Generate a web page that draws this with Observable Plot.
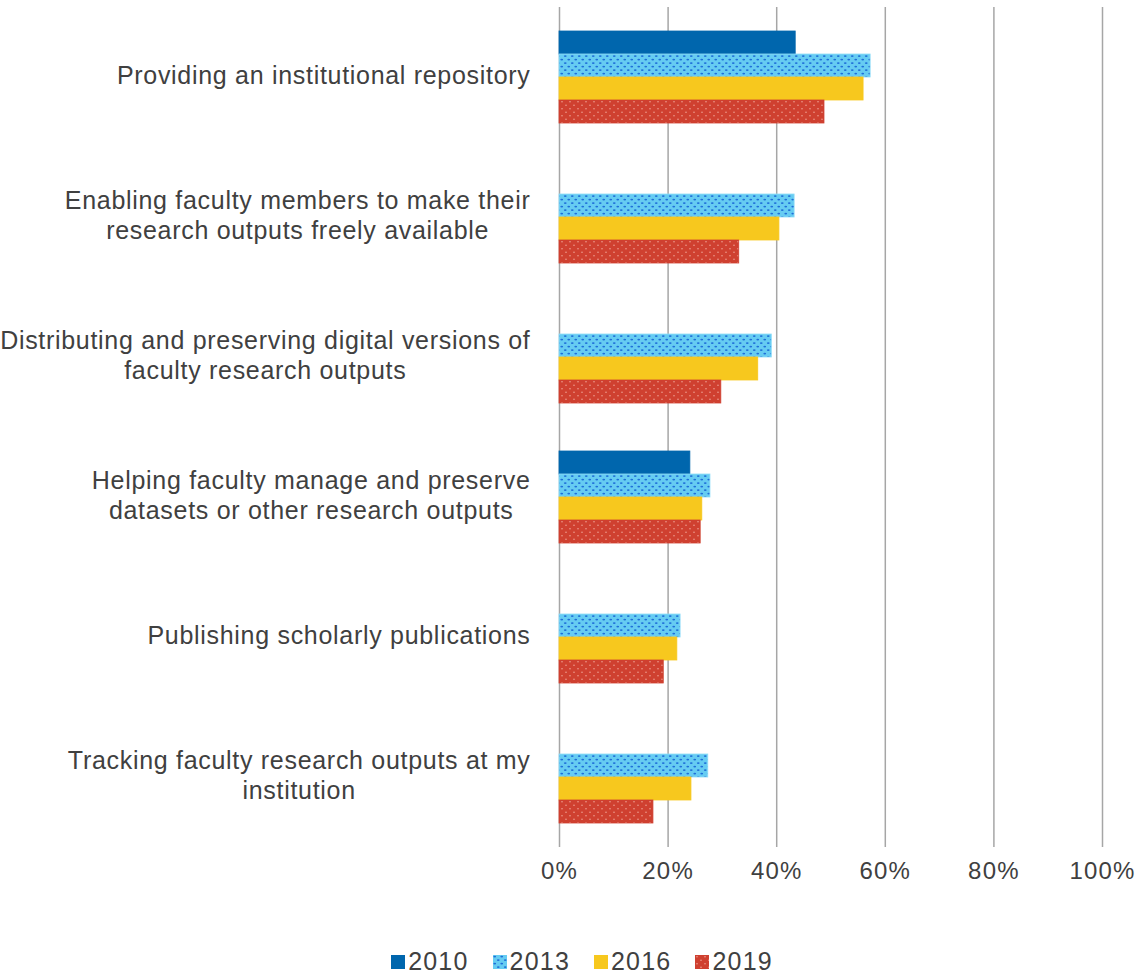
<!DOCTYPE html>
<html>
<head>
<meta charset="utf-8">
<script src="https://cdn.jsdelivr.net/npm/d3@7"></script>
<script src="https://cdn.jsdelivr.net/npm/@observablehq/plot@0.6"></script>
<style>
  html, body { margin: 0; padding: 0; background: #fff; }
  body { width: 1138px; font-family: "Liberation Sans", Arial, sans-serif; }
  #legend { display: flex; justify-content: center; gap: 24px; margin-top: 47px; font-size: 25px; letter-spacing: 1.2px; color: #404040; margin-left: 26px;}
  #legend .item { display: flex; align-items: center; gap: 3px; }
  #legend svg { display: block; }
</style>
</head>
<body>
<svg width="0" height="0" style="position:absolute">
  <defs>
    <pattern id="p2013" width="7" height="7" patternUnits="userSpaceOnUse">
      <rect width="7" height="7" fill="#66ccf2"/>
      <ellipse cx="1.75" cy="1.6" rx="1.4" ry="0.85" fill="#1e6fd9"/>
      <ellipse cx="5.25" cy="5.1" rx="1.4" ry="0.85" fill="#1e6fd9"/>
    </pattern>
    <pattern id="p2019" width="8" height="7" patternUnits="userSpaceOnUse">
      <rect width="8" height="7" fill="#cf4030"/>
      <circle cx="2" cy="1.7" r="0.8" fill="#ee9d8f"/>
      <circle cx="6" cy="5.2" r="0.8" fill="#ee9d8f"/>
    </pattern>
  </defs>
</svg>
<div id="chart"></div>
<div id="legend"></div>
<script>
const categories = [
  "Providing an institutional repository",
  "Enabling faculty members to make their research outputs freely available",
  "Distributing and preserving digital versions of faculty research outputs",
  "Helping faculty manage and preserve datasets or other research outputs",
  "Publishing scholarly publications",
  "Tracking faculty research outputs at my institution"
];
const labels = [
  "Providing an institutional repository",
  "Enabling faculty members to make their\nresearch outputs freely available",
  "Distributing and preserving digital versions of\nfaculty research outputs",
  "Helping faculty manage and preserve\ndatasets or other research outputs",
  "Publishing scholarly publications",
  "Tracking faculty research outputs at my\ninstitution"
];
const years = ["2010", "2013", "2016", "2019"];
const values2010 = [0.435, null, null, 0.241, null, null];
const values2013 = [0.573, 0.433, 0.391, 0.278, 0.223, 0.274];
const values2016 = [0.560, 0.405, 0.366, 0.263, 0.217, 0.243];
const values2019 = [0.488, 0.331, 0.298, 0.260, 0.192, 0.173];
const xTicks = [0, 0.2, 0.4, 0.6, 0.8, 1.0];
const fills = ["#0066ad", "url(#p2013)", "#f7c81e", "url(#p2019)"];
const strokes = ["#0066ad", "#8fdcf8", "#f7c81e", "#cf4030"];

const series = [values2010, values2013, values2016, values2019];
const rows = [];
years.forEach((yr, j) => {
  categories.forEach((c, i) => {
    const v = series[j][i];
    if (v != null) rows.push({category: c, year: yr, value: v});
  });
});
const labelOf = new Map(categories.map((c, i) => [c, labels[i]]));

const plot = Plot.plot({
  width: 1138,
  height: 900,
  marginLeft: 559,
  marginRight: 36,
  marginTop: 5,
  marginBottom: 52,
  style: {fontFamily: '"Liberation Sans", Arial, sans-serif', color: "#404040", background: "#fff"},
  x: {domain: [0, 1], label: null},
  y: {domain: years, paddingInner: 0, paddingOuter: 1.0, axis: null, label: null},
  fy: {domain: categories, padding: 0, label: null},
  color: {domain: years, range: fills},
  marks: [
    Plot.gridX({ticks: xTicks, stroke: "#a6a6a6", strokeOpacity: 1, strokeWidth: 1.5}),
    Plot.barX(rows, {
      x: "value", y: "year", fy: "category",
      fill: "year",
      stroke: (d) => strokes[years.indexOf(d.year)],
      strokeWidth: 0.8,
      insetTop: 0, insetBottom: 0
    }),
    Plot.axisX({ticks: xTicks, tickFormat: d3.format(".0%"), tickSize: 0, tickPadding: 14, fontSize: 24, fill: "#404040", label: null}),
    Plot.axisFy({anchor: "left", tickSize: 0, tickPadding: 29, fontSize: 25, lineHeight: 1.2, dy: -3, fill: "#404040", label: null, tickFormat: (d) => labelOf.get(d)})
  ]
});
document.getElementById("chart").appendChild(plot);

// tick label spacing (styling only)
plot.querySelectorAll('g[aria-label="x-axis tick label"] text').forEach((t) => {
  t.style.letterSpacing = "1.2px";
});
// center the lines of each wrapped label within its right-aligned block
plot.querySelectorAll('g[aria-label="fy-axis tick label"] text').forEach((t) => {
  t.style.letterSpacing = "0.7px";
  const w = t.getBBox().width;
  t.setAttribute("text-anchor", "middle");
  const tr = t.getAttribute("transform") || "";
  t.setAttribute("transform", tr + ` translate(${-w / 2},0)`);
});

// legend
const legend = d3.select("#legend");
years.forEach((yr, j) => {
  const item = legend.append("div").attr("class", "item");
  const s = item.append("svg").attr("width", 14).attr("height", 14);
  s.append("rect").attr("width", 14).attr("height", 14).attr("fill", fills[j]);
  item.append("span").text(yr);
});
</script>
</body>
</html>
